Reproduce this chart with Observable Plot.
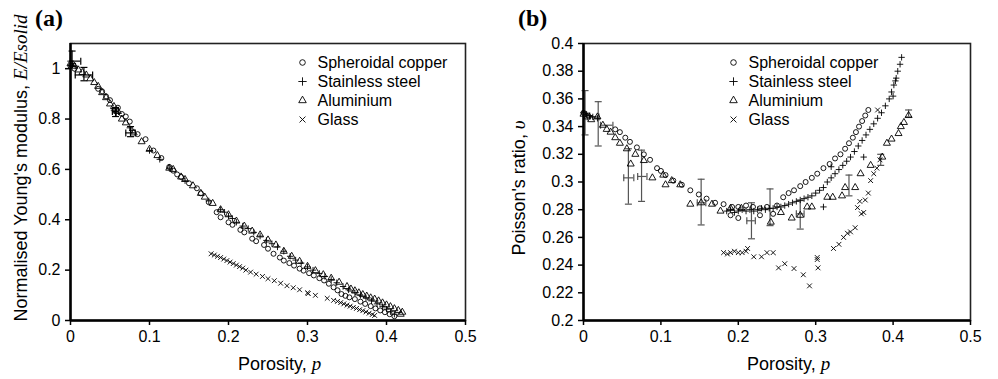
<!DOCTYPE html>
<html><head><meta charset="utf-8">
<script src="https://cdn.jsdelivr.net/npm/d3@7"></script>
<script src="https://cdn.jsdelivr.net/npm/@observablehq/plot@0.6"></script>
<style>
body{margin:0;background:#fff}
#wrap{display:flex;width:998px;height:379px;background:#fff}
svg text.ttl{white-space:pre}
</style>
</head><body><div id="wrap"></div>
<script>
// ---------- shared ----------
const seriesNames = ["Spheroidal copper", "Stainless steel", "Aluminium", "Glass"];
const xTicks = [0, 0.1, 0.2, 0.3, 0.4, 0.5];
const xDomain = [0, 0.5];

// ---------- panel (a): normalised Young's modulus ----------
const yTicksA = [0, 0.2, 0.4, 0.6, 0.8, 1];
const yDomainA = [0, 1.1];
const copperA = [[0.0,1.01],[0.005,1.0],[0.035,0.92],[0.04,0.91],[0.045,0.89],[0.05,0.875],[0.06,0.845],[0.065,0.82],[0.07,0.81],[0.075,0.79],[0.085,0.74],[0.095,0.72],[0.105,0.675],[0.115,0.645],[0.125,0.61],[0.13,0.595],[0.135,0.58],[0.14,0.57],[0.15,0.545],[0.16,0.525],[0.165,0.505],[0.175,0.47],[0.185,0.43],[0.19,0.41],[0.2,0.39],[0.205,0.38],[0.215,0.36],[0.22,0.35],[0.23,0.325],[0.235,0.315],[0.245,0.3],[0.25,0.285],[0.257,0.265],[0.265,0.25],[0.27,0.238],[0.277,0.228],[0.283,0.218],[0.29,0.206],[0.295,0.198],[0.302,0.188],[0.308,0.179],[0.315,0.168],[0.321,0.159],[0.327,0.146],[0.333,0.132],[0.338,0.12],[0.343,0.105],[0.348,0.098],[0.353,0.092],[0.36,0.085],[0.367,0.075],[0.373,0.066],[0.38,0.057],[0.386,0.048],[0.392,0.04],[0.398,0.033],[0.404,0.025],[0.41,0.017]];
const steelA = [[0.0,1.03],[0.003,1.02],[0.006,1.01],[0.055,0.835],[0.058,0.825],[0.075,0.765],[0.078,0.755],[0.1,0.675],[0.113,0.64],[0.125,0.605],[0.145,0.555],[0.175,0.475],[0.19,0.44],[0.195,0.43],[0.2,0.415],[0.205,0.405],[0.21,0.39],[0.218,0.375],[0.225,0.365],[0.232,0.35],[0.24,0.335],[0.248,0.318],[0.255,0.305],[0.262,0.292],[0.27,0.275],[0.278,0.255],[0.285,0.24],[0.292,0.228],[0.3,0.213],[0.307,0.2],[0.315,0.187],[0.322,0.175],[0.33,0.163],[0.337,0.15],[0.345,0.135],[0.352,0.122],[0.36,0.11],[0.367,0.1],[0.374,0.09],[0.381,0.078],[0.388,0.066],[0.395,0.055],[0.4,0.045],[0.405,0.035],[0.41,0.025]];
const aluminiumA = [[0.0,1.02],[0.005,1.01],[0.01,0.995],[0.015,0.985],[0.02,0.975],[0.025,0.96],[0.03,0.945],[0.035,0.93],[0.04,0.905],[0.045,0.885],[0.05,0.86],[0.055,0.85],[0.06,0.83],[0.065,0.8],[0.07,0.785],[0.08,0.745],[0.09,0.71],[0.1,0.68],[0.11,0.655],[0.125,0.605],[0.13,0.6],[0.14,0.57],[0.145,0.56],[0.155,0.535],[0.165,0.505],[0.17,0.49],[0.18,0.465],[0.19,0.44],[0.2,0.42],[0.21,0.395],[0.22,0.375],[0.23,0.355],[0.24,0.34],[0.25,0.32],[0.26,0.3],[0.27,0.275],[0.28,0.255],[0.29,0.235],[0.3,0.215],[0.31,0.198],[0.32,0.182],[0.33,0.168],[0.34,0.152],[0.35,0.135],[0.355,0.125],[0.36,0.118],[0.365,0.11],[0.37,0.103],[0.375,0.097],[0.38,0.09],[0.385,0.085],[0.39,0.078],[0.395,0.07],[0.4,0.062],[0.405,0.055],[0.41,0.047],[0.415,0.04],[0.42,0.033],[0.418,0.025]];
const glassA = [[0.178,0.265],[0.182,0.26],[0.186,0.255],[0.19,0.25],[0.194,0.244],[0.198,0.238],[0.202,0.232],[0.206,0.226],[0.21,0.22],[0.214,0.214],[0.218,0.208],[0.222,0.2],[0.228,0.192],[0.235,0.184],[0.243,0.175],[0.25,0.166],[0.258,0.158],[0.266,0.148],[0.274,0.138],[0.282,0.13],[0.29,0.122],[0.3,0.11],[0.301,0.107],[0.31,0.1],[0.325,0.088],[0.333,0.08],[0.338,0.076],[0.342,0.071],[0.346,0.066],[0.35,0.061],[0.354,0.057],[0.358,0.052],[0.362,0.048],[0.366,0.043],[0.37,0.039],[0.374,0.034],[0.378,0.029],[0.382,0.024],[0.385,0.02]];
// error bars: [p, value, low, high, pLow, pHigh]
const errorsA = [[0.002,1.03,1.01,1.07,0.0,0.013],[0.017,0.975,0.952,1.005,0.006,0.028],[0.057,0.83,0.81,0.846,0.053,0.061],[0.076,0.745,0.73,0.77,0.07,0.082]];

// ---------- panel (b): Poisson's ratio ----------
const yTicksB = [0.2, 0.22, 0.24, 0.26, 0.28, 0.3, 0.32, 0.34, 0.36, 0.38, 0.4];
const yDomainB = [0.2, 0.4];
const copperB = [[0.0,0.35],[0.006,0.348],[0.041,0.338],[0.047,0.336],[0.054,0.332],[0.06,0.329],[0.069,0.325],[0.078,0.32],[0.086,0.316],[0.095,0.31],[0.1,0.308],[0.106,0.305],[0.116,0.301],[0.127,0.298],[0.138,0.294],[0.149,0.291],[0.159,0.288],[0.17,0.285],[0.181,0.284],[0.192,0.282],[0.19,0.276],[0.2,0.282],[0.2,0.274],[0.21,0.283],[0.219,0.282],[0.228,0.281],[0.228,0.276],[0.237,0.282],[0.245,0.277],[0.25,0.283],[0.258,0.289],[0.265,0.292],[0.272,0.294],[0.28,0.297],[0.287,0.3],[0.295,0.303],[0.302,0.306],[0.31,0.31],[0.318,0.313],[0.325,0.317],[0.332,0.32],[0.338,0.324],[0.343,0.328],[0.348,0.332],[0.352,0.336],[0.356,0.34],[0.36,0.344],[0.364,0.348],[0.368,0.352]];
const steelB = [[0.0,0.35],[0.004,0.349],[0.008,0.348],[0.012,0.347],[0.018,0.346],[0.185,0.279],[0.19,0.28],[0.195,0.278],[0.2,0.279],[0.205,0.28],[0.21,0.279],[0.215,0.28],[0.22,0.279],[0.225,0.28],[0.23,0.281],[0.235,0.28],[0.24,0.281],[0.245,0.281],[0.25,0.282],[0.255,0.282],[0.26,0.283],[0.265,0.284],[0.27,0.285],[0.275,0.286],[0.28,0.287],[0.285,0.288],[0.29,0.289],[0.295,0.29],[0.3,0.292],[0.305,0.294],[0.31,0.296],[0.315,0.3],[0.32,0.303],[0.325,0.306],[0.33,0.309],[0.335,0.312],[0.34,0.315],[0.345,0.318],[0.35,0.322],[0.355,0.326],[0.36,0.33],[0.365,0.334],[0.37,0.338],[0.375,0.342],[0.38,0.346],[0.385,0.35],[0.39,0.355],[0.395,0.36],[0.398,0.365],[0.401,0.37],[0.404,0.375],[0.406,0.38],[0.409,0.385],[0.411,0.39],[0.31,0.282],[0.32,0.311],[0.362,0.318],[0.4,0.362],[0.403,0.373]];
const aluminiumB = [[0.0,0.349],[0.005,0.347],[0.01,0.345],[0.018,0.347],[0.025,0.341],[0.03,0.338],[0.035,0.336],[0.041,0.332],[0.047,0.328],[0.056,0.324],[0.061,0.313],[0.067,0.32],[0.078,0.3155],[0.089,0.303],[0.103,0.305],[0.106,0.298],[0.114,0.301],[0.125,0.298],[0.138,0.284],[0.152,0.285],[0.166,0.284],[0.177,0.279],[0.19,0.281],[0.204,0.281],[0.242,0.271],[0.255,0.278],[0.269,0.274],[0.28,0.276],[0.289,0.282],[0.295,0.282],[0.315,0.289],[0.322,0.289],[0.334,0.29],[0.338,0.296],[0.351,0.296],[0.358,0.306],[0.371,0.312],[0.386,0.318],[0.392,0.328],[0.398,0.331],[0.407,0.335],[0.41,0.34],[0.414,0.343],[0.42,0.348]];
const glassB = [[0.181,0.249],[0.186,0.248],[0.19,0.249],[0.195,0.25],[0.2,0.249],[0.205,0.249],[0.21,0.25],[0.212,0.252],[0.22,0.246],[0.23,0.246],[0.237,0.249],[0.245,0.249],[0.252,0.238],[0.26,0.241],[0.272,0.2375],[0.284,0.233],[0.292,0.225],[0.302,0.2455],[0.302,0.244],[0.303,0.238],[0.323,0.252],[0.33,0.255],[0.336,0.26],[0.341,0.263],[0.345,0.264],[0.351,0.267],[0.354,0.2815],[0.359,0.277],[0.357,0.286],[0.362,0.278],[0.364,0.287],[0.368,0.292],[0.371,0.301],[0.375,0.306],[0.379,0.31],[0.383,0.316],[0.38,0.352]];
const errorsB = [[0.002,0.349,0.334,0.366,null,null],[0.019,0.342,0.326,0.358,null,null],[0.058,0.303,0.284,0.324,0.052,0.065],[0.075,0.304,0.286,0.323,0.07,0.082],[0.152,0.285,0.269,0.302,0.147,0.158],[0.217,0.272,0.259,0.285,0.211,0.222],[0.241,0.283,0.2685,0.295,null,null],[0.28,0.277,0.266,0.2866,0.275,0.285],[0.343,0.296,0.29,0.305,null,null],[0.384,0.316,0.312,0.32,null,null],[0.42,0.349,0.347,0.352,null,null],[0.012,0.347,null,null,0.005,0.02],[0.03,0.341,null,null,0.022,0.038]];

// ---------- drawing ----------
const symbols = ["circle", "plus", "triangle", "times"];
const symR = [2.5, 2.2, 2.6, 2.3];
const fmt = d3.format("~g");
const capH = {draw(ctx) { ctx.moveTo(-3.5, 0); ctx.lineTo(3.5, 0); }};
const capV = {draw(ctx) { ctx.moveTo(0, -3.5); ctx.lineTo(0, 3.5); }};

function panel(cfg) {
  const vErr = cfg.errors.filter(d => d[2] != null);
  const hErr = cfg.errors.filter(d => d[4] != null);
  const marks = [
    Plot.frame({stroke: "#222", strokeWidth: 1.6}),
    Plot.ruleX(vErr, {x: d => d[0], y1: d => d[2], y2: d => d[3], stroke: cfg.errColor, strokeWidth: 1.2}),
    Plot.dot(vErr, {x: d => d[0], y: d => d[2], symbol: capH, stroke: cfg.errColor, strokeWidth: 1.2}),
    Plot.dot(vErr, {x: d => d[0], y: d => d[3], symbol: capH, stroke: cfg.errColor, strokeWidth: 1.2}),
    Plot.ruleY(hErr, {y: d => d[1], x1: d => d[4], x2: d => d[5], stroke: cfg.errColor, strokeWidth: 1.2}),
    Plot.dot(hErr, {x: d => d[4], y: d => d[1], symbol: capV, stroke: cfg.errColor, strokeWidth: 1.2}),
    Plot.dot(hErr, {x: d => d[5], y: d => d[1], symbol: capV, stroke: cfg.errColor, strokeWidth: 1.2}),
    ...cfg.series.map((data, i) => Plot.dot(data, {x: d => d[0], y: d => d[1], symbol: symbols[i], r: symR[i], stroke: "#000", strokeWidth: 0.9, fill: "none"})),
    Plot.ruleX([xDomain[0]], {stroke: "#000", strokeWidth: 2.5}),
    Plot.ruleY([cfg.yDomain[0]], {stroke: "#000", strokeWidth: 2.5}),
    Plot.axisX(xTicks, {tickFormat: fmt, tickSize: 5, tickPadding: 5, strokeWidth: 1.5, label: null, fontSize: 16}),
    Plot.axisY(cfg.yTicks, {tickFormat: fmt, tickSize: 5, tickPadding: 5, strokeWidth: 1.5, label: null, fontSize: 16}),
    ...seriesNames.flatMap((name, i) => [
      Plot.dot([name], {frameAnchor: "top-left", dx: cfg.legSym, dy: 19 + i * 19, symbol: symbols[i], r: 2.8, stroke: "#000", strokeWidth: 0.9, fill: "none"}),
      Plot.text([name], {frameAnchor: "top-left", dx: cfg.legText, dy: 19 + i * 19, text: d => d, textAnchor: "start", lineAnchor: "middle", fontSize: 16})
    ])
  ];
  const svg = Plot.plot({
    width: cfg.width, height: 379,
    marginLeft: cfg.ml, marginRight: cfg.mr, marginTop: 43, marginBottom: 59,
    x: {domain: xDomain},
    y: {domain: cfg.yDomain},
    style: {fontFamily: "'Liberation Sans', Arial, sans-serif", fontSize: "16px", background: "#fff", overflow: "visible", color: "#000"},
    marks
  });
  const s = d3.select(svg);
  // panel tag
  s.append("text").attr("x", cfg.tagX).attr("y", 26).attr("text-anchor", "start")
    .attr("font-family", "'Liberation Serif', 'Times New Roman', serif").attr("font-weight", "bold").attr("font-size", 24)
    .text(cfg.tag);
  // x title
  const xt = s.append("text").attr("class", "ttl").attr("x", cfg.xTitleX).attr("y", 370).attr("text-anchor", "start")
    .attr("font-family", "'Liberation Sans', Arial, sans-serif").attr("font-size", 18);
  xt.append("tspan").text("Porosity, ");
  xt.append("tspan").attr("font-family", "'Liberation Serif', serif").attr("font-style", "italic").attr("font-size", 19).text("p");
  // y title
  const yt = s.append("text").attr("class", "ttl").attr("text-anchor", "middle")
    .attr("transform", `translate(${cfg.yTitleX},${cfg.yTitleY}) rotate(-90)`)
    .attr("font-family", "'Liberation Sans', Arial, sans-serif").attr("font-size", 18);
  yt.append("tspan").text(cfg.yTitle);
  yt.append("tspan").attr("font-family", "'Liberation Serif', serif").attr("font-style", "italic").attr("font-size", 19).text(cfg.yTitleIt);
  return svg;
}

const wrap = document.getElementById("wrap");
wrap.append(panel({
  width: 495, ml: 70, mr: 30, yDomain: yDomainA, yTicks: yTicksA,
  series: [copperA, steelA, aluminiumA, glassA], errors: errorsA, errColor: "#000",
  legSym: 232, legText: 247, tag: "(a)", tagX: 35, xTitleX: 238,
  yTitleX: 27, yTitleY: 168, yTitle: "Normalised Young's modulus, ", yTitleIt: "E/Esolid"
}));
wrap.append(panel({
  width: 503, ml: 88, mr: 28, yDomain: yDomainB, yTicks: yTicksB,
  series: [copperB, steelB, aluminiumB, glassB], errors: errorsB, errColor: "#555",
  legSym: 150, legText: 165, tag: "(b)", tagX: 23, xTitleX: 252,
  yTitleX: 30, yTitleY: 188, yTitle: "Poisson's ratio, ", yTitleIt: "υ"
}));
</script>
</body></html>
